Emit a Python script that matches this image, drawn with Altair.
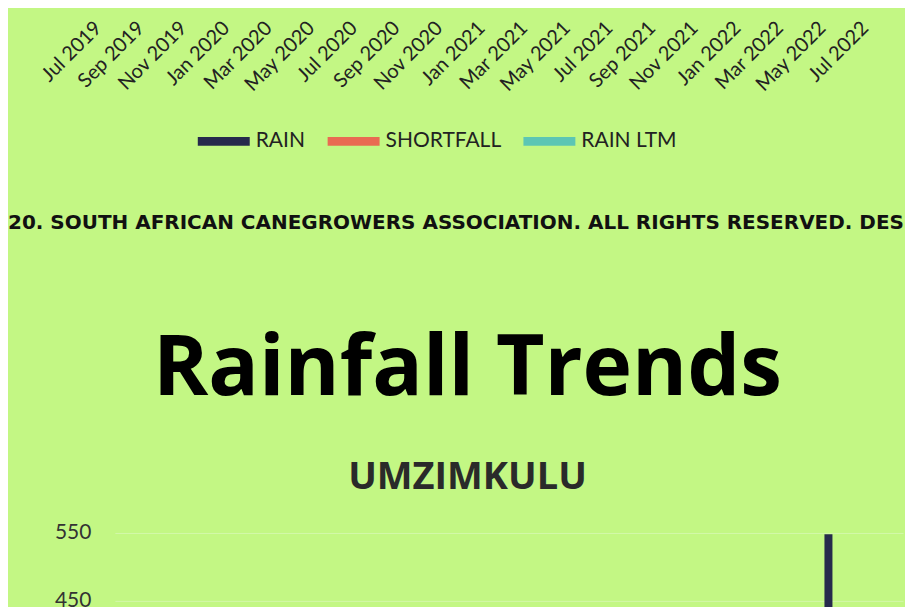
import altair as alt
import pandas as pd

# ---------------- data ----------------
months = [
    "Jul 2019", "Aug 2019", "Sep 2019", "Oct 2019", "Nov 2019", "Dec 2019",
    "Jan 2020", "Feb 2020", "Mar 2020", "Apr 2020", "May 2020", "Jun 2020",
    "Jul 2020", "Aug 2020", "Sep 2020", "Oct 2020", "Nov 2020", "Dec 2020",
    "Jan 2021", "Feb 2021", "Mar 2021", "Apr 2021", "May 2021", "Jun 2021",
    "Jul 2021", "Aug 2021", "Sep 2021", "Oct 2021", "Nov 2021", "Dec 2021",
    "Jan 2022", "Feb 2022", "Mar 2022", "Apr 2022", "May 2022", "Jun 2022",
    "Jul 2022",
]
label_months = months[::2]
series = ["RAIN", "SHORTFALL", "RAIN LTM"]
series_colors = ["#262a4c", "#e96b52", "#5cc6b4"]

# visible part of the UMZIMKULU chart
bar_months = ["Apr 2022"]
bar_series = ["RAIN"]
bar_values = [548]

y_ticks = [550, 450, 350, 250, 150, 50, -50]
y_domain = [-50, 550]

footer_text = "20. SOUTH AFRICAN CANEGROWERS ASSOCIATION. ALL RIGHTS RESERVED. DES"
page_title = "Rainfall Trends"
chart_title = "UMZIMKULU"

BG = "#c3f784"
RECT = "M-1,-0.17L1,-0.17L1,0.17L-1,0.17Z"
PLOT_W = 789

x_scale = alt.Scale(domain=months, paddingInner=0.625, paddingOuter=0.3125)

x_axis = alt.Axis(values=label_months, labelAngle=-45, labelAlign="right",
                  labelBaseline="middle", labelOffset=-27, labelPadding=12,
                  ticks=False, tickSize=0, domain=False, grid=False, title=None,
                  labelFont="Lato", labelFontSize=20, labelColor="#222222",
                  labelOverlap=False)

# ---------------- upper chart (only its axis + legend visible) ----------------
legend_df = pd.DataFrame({"month": pd.Series([], dtype=str),
                          "series": pd.Series([], dtype=str)})

top = alt.Chart(legend_df).mark_bar().encode(
    x=alt.X("month:N", scale=x_scale, sort=months, axis=x_axis),
    color=alt.Color("series:N",
                    scale=alt.Scale(domain=series, range=series_colors),
                    legend=alt.Legend(title=None, orient="none", legendX=83, legendY=107,
                                      direction="horizontal", symbolType=RECT,
                                      symbolSize=2704, symbolStrokeWidth=0,
                                      labelFont="Lato", labelFontSize=21,
                                      labelColor="#222222", labelOffset=6,
                                      columnPadding=22)),
).properties(
    width=PLOT_W, height=4,
    title=alt.TitleParams(text=footer_text, orient="bottom", anchor="start",
                          frame="group", dx=-107, offset=62, font="DejaVu Sans",
                          fontSize=20, fontWeight="bold", color="#111111"),
)

# ---------------- UMZIMKULU chart ----------------
bars_df = pd.DataFrame({"month": bar_months, "series": bar_series, "value": bar_values})

bottom = alt.Chart(bars_df).mark_bar().encode(
    x=alt.X("month:N", scale=x_scale, sort=months, axis=x_axis),
    y=alt.Y("value:Q", scale=alt.Scale(domain=y_domain, nice=False, zero=False),
            axis=alt.Axis(values=y_ticks, title=None, domain=False, ticks=False, tickSize=0,
                          labelPadding=24, labelFont="Lato", labelFontSize=21,
                          labelColor="#333333", grid=True, gridColor="#d3f8aa",
                          gridWidth=1)),
    color=alt.Color("series:N", scale=alt.Scale(domain=series, range=series_colors),
                    legend=None),
).properties(
    width=PLOT_W, height=408,
    title=alt.TitleParams(text=page_title, subtitle=chart_title, anchor="middle",
                          frame="group", dx=-41.5, offset=24, font="Open Sans",
                          fontSize=84, fontWeight=700, color="#000000",
                          subtitleFont="Open Sans", subtitleFontSize=38,
                          subtitleFontWeight=700, subtitleColor="#2a2a2a",
                          subtitlePadding=46),
)

chart = alt.vconcat(top, bottom, spacing=521, bounds="flush").resolve_scale(
    x="independent", color="independent"
).resolve_legend(color="independent").properties(
    padding=0, background=BG
).configure_view(stroke=None)

chart.save("out.html", embed_options={"renderer": "svg", "actions": False})
